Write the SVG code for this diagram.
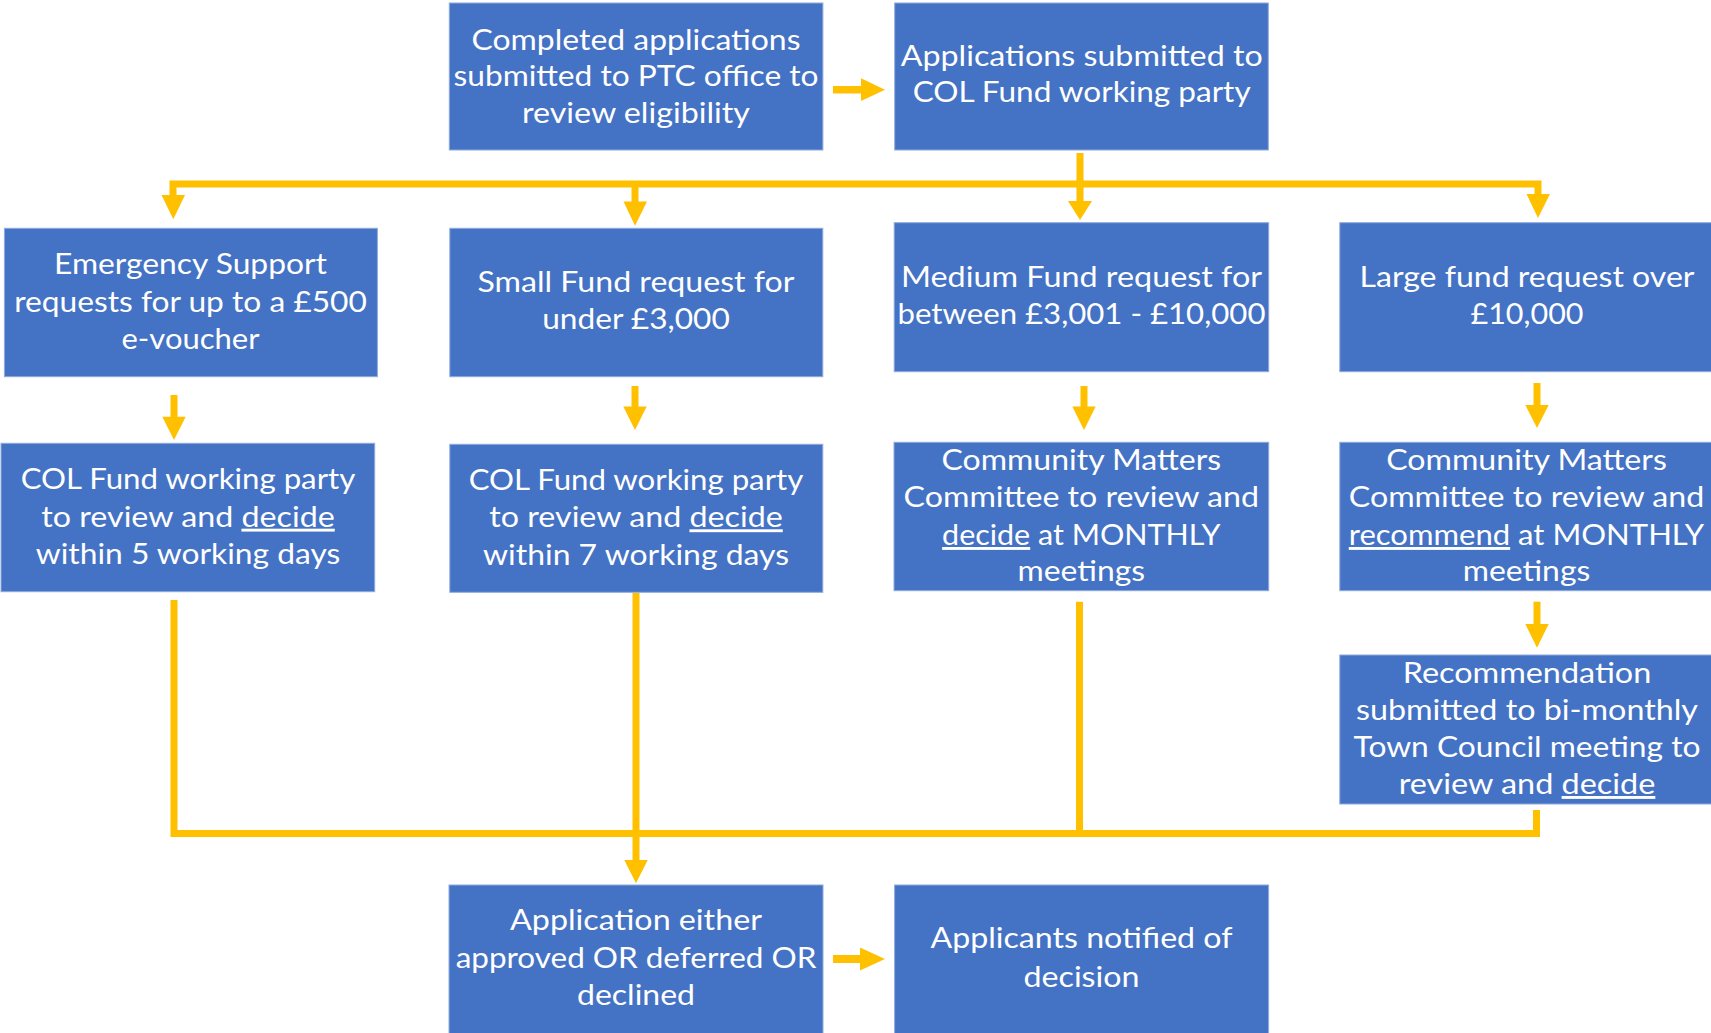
<svg xmlns="http://www.w3.org/2000/svg" width="1711" height="1033" viewBox="0 0 1711 1033">
<style>
.box{fill:#4472C4;stroke:#8FAADC;stroke-width:1}
.t{font-family:Lato,"Noto Sans","DejaVu Sans",sans-serif;font-size:29px;fill:#FFFFFF;text-anchor:middle}
.u{text-decoration:underline}
.ln{fill:none;stroke:#FFC000;stroke-width:7}
.hd{fill:#FFC000}
</style>
<rect width="1711" height="1033" fill="#FFFFFF"/>
<g id="connectors">
  <rect class="hd" x="833" y="86" width="28" height="7.5"/>
  <polygon class="hd" points="861,78.3 885,89.7 861,101"/>
  <rect class="hd" x="833" y="955" width="28" height="8"/>
  <polygon class="hd" points="860,947.5 885,959 860,970.5"/>
  <polyline class="ln" points="173,205 173,184 1538,184 1538,200"/>
  <line class="ln" x1="1080" y1="153" x2="1080" y2="204"/>
  <line class="ln" x1="635" y1="184" x2="635" y2="206"/>
  <polygon class="hd" points="161.5,195 185,195 173.3,219.3"/>
  <polygon class="hd" points="623.5,201.5 647,201.5 635,225.7"/>
  <polygon class="hd" points="1068,201 1092,201 1080,220"/>
  <polygon class="hd" points="1526.5,194 1550,194 1538,218"/>
  <line class="ln" x1="174" y1="395" x2="174" y2="420"/>
  <polygon class="hd" points="162.3,416.7 185.7,416.7 174,440"/>
  <line class="ln" x1="635" y1="386" x2="635" y2="410"/>
  <polygon class="hd" points="623.3,406.5 646.7,406.5 635,430"/>
  <line class="ln" x1="1084" y1="386" x2="1084" y2="410"/>
  <polygon class="hd" points="1072.3,406.5 1095.7,406.5 1084,430"/>
  <line class="ln" x1="1537" y1="383" x2="1537" y2="408"/>
  <polygon class="hd" points="1525.3,405 1548.7,405 1537,428"/>
  <line class="ln" x1="1537" y1="601.7" x2="1537" y2="627"/>
  <polygon class="hd" points="1525.3,624 1548.7,624 1537,647.7"/>
  <polyline class="ln" points="174,600 174,833.5 1536.5,833.5 1536.5,810"/>
  <line class="ln" x1="1079.5" y1="601.7" x2="1079.5" y2="833.5"/>
  <line class="ln" x1="636" y1="593" x2="636" y2="864"/>
  <polygon class="hd" points="624.3,860 647.7,860 636,883.3"/>
</g>
<g id="n1">
  <rect class="box" x="449.3" y="3" width="373.6" height="147"/>
  <text class="t" x="636" y="49.5" textLength="329" lengthAdjust="spacingAndGlyphs">Completed applications</text>
  <text class="t" x="636" y="86" textLength="365" lengthAdjust="spacingAndGlyphs">submitted to PTC office to</text>
  <text class="t" x="636" y="122.5" textLength="228" lengthAdjust="spacingAndGlyphs">review eligibility</text>
</g>
<g id="n2">
  <rect class="box" x="894.7" y="3" width="373.6" height="147"/>
  <text class="t" x="1081.7" y="66" textLength="362" lengthAdjust="spacingAndGlyphs">Applications submitted to</text>
  <text class="t" x="1081.7" y="102" textLength="338" lengthAdjust="spacingAndGlyphs">COL Fund working party</text>
</g>
<g id="n3">
  <rect class="box" x="4.4" y="228.3" width="373" height="148.4"/>
  <text class="t" x="190.5" y="274" textLength="273" lengthAdjust="spacingAndGlyphs">Emergency Support</text>
  <text class="t" x="190.5" y="311.5" textLength="352.7" lengthAdjust="spacingAndGlyphs">requests for up to a £500</text>
  <text class="t" x="190.5" y="349" textLength="138" lengthAdjust="spacingAndGlyphs">e-voucher</text>
</g>
<g id="n4">
  <rect class="box" x="449.8" y="228.3" width="373" height="148.4"/>
  <text class="t" x="636" y="291.7" textLength="317" lengthAdjust="spacingAndGlyphs">Small Fund request for</text>
  <text class="t" x="636" y="329" textLength="187.6" lengthAdjust="spacingAndGlyphs">under £3,000</text>
</g>
<g id="n5">
  <rect class="box" x="894.2" y="222.7" width="374.5" height="149"/>
  <text class="t" x="1081.5" y="287.3" textLength="361" lengthAdjust="spacingAndGlyphs">Medium Fund request for</text>
  <text class="t" x="1081.5" y="324" textLength="368" lengthAdjust="spacingAndGlyphs">between £3,001 - £10,000</text>
</g>
<g id="n6">
  <rect class="box" x="1339.8" y="222.7" width="374" height="149"/>
  <text class="t" x="1527" y="287.3" textLength="335" lengthAdjust="spacingAndGlyphs">Large fund request over</text>
  <text class="t" x="1527" y="324" textLength="113" lengthAdjust="spacingAndGlyphs">£10,000</text>
</g>
<g id="n7">
  <rect class="box" x="1" y="443.3" width="373.7" height="148.4"/>
  <text class="t" x="188" y="489.3" textLength="334.6" lengthAdjust="spacingAndGlyphs">COL Fund working party</text>
  <text class="t" x="188" y="526.7" textLength="293.5" lengthAdjust="spacingAndGlyphs">to review and <tspan class="u">decide</tspan></text>
  <text class="t" x="188" y="564" textLength="304.5" lengthAdjust="spacingAndGlyphs">within 5 working days</text>
</g>
<g id="n8">
  <rect class="box" x="449.8" y="444.3" width="373" height="148"/>
  <text class="t" x="636" y="490" textLength="334.6" lengthAdjust="spacingAndGlyphs">COL Fund working party</text>
  <text class="t" x="636" y="527.3" textLength="293.5" lengthAdjust="spacingAndGlyphs">to review and <tspan class="u">decide</tspan></text>
  <text class="t" x="636" y="564.7" textLength="306" lengthAdjust="spacingAndGlyphs">within 7 working days</text>
</g>
<g id="n9">
  <rect class="box" x="894" y="442.3" width="374.7" height="148.4"/>
  <text class="t" x="1081.3" y="470" textLength="279.5" lengthAdjust="spacingAndGlyphs">Community Matters</text>
  <text class="t" x="1081.3" y="507.3" textLength="355.5" lengthAdjust="spacingAndGlyphs">Committee to review and</text>
  <text class="t" x="1081.3" y="545" textLength="278.4" lengthAdjust="spacingAndGlyphs"><tspan class="u">decide</tspan> at MONTHLY</text>
  <text class="t" x="1081.3" y="580.7" textLength="127.5" lengthAdjust="spacingAndGlyphs">meetings</text>
</g>
<g id="n10">
  <rect class="box" x="1339.8" y="442.3" width="374" height="148.4"/>
  <text class="t" x="1526.5" y="470" textLength="280.6" lengthAdjust="spacingAndGlyphs">Community Matters</text>
  <text class="t" x="1526.5" y="507.3" textLength="355.5" lengthAdjust="spacingAndGlyphs">Committee to review and</text>
  <text class="t" x="1526.5" y="545" textLength="355.5" lengthAdjust="spacingAndGlyphs"><tspan class="u">recommend</tspan> at MONTHLY</text>
  <text class="t" x="1526.5" y="580.7" textLength="127.5" lengthAdjust="spacingAndGlyphs">meetings</text>
</g>
<g id="n11">
  <rect class="box" x="1339.8" y="655" width="374" height="149"/>
  <text class="t" x="1527" y="683.3" textLength="248.6" lengthAdjust="spacingAndGlyphs">Recommendation</text>
  <text class="t" x="1527" y="720" textLength="342" lengthAdjust="spacingAndGlyphs">submitted to bi-monthly</text>
  <text class="t" x="1527" y="757.3" textLength="347" lengthAdjust="spacingAndGlyphs">Town Council meeting to</text>
  <text class="t" x="1527" y="794" textLength="256.7" lengthAdjust="spacingAndGlyphs">review and <tspan class="u">decide</tspan></text>
</g>
<g id="n12">
  <rect class="box" x="449" y="885" width="374" height="150"/>
  <text class="t" x="636" y="930" textLength="251.8" lengthAdjust="spacingAndGlyphs">Application either</text>
  <text class="t" x="636" y="968.3" textLength="360.7" lengthAdjust="spacingAndGlyphs">approved OR deferred OR</text>
  <text class="t" x="636" y="1005" textLength="117.9" lengthAdjust="spacingAndGlyphs">declined</text>
</g>
<g id="n13">
  <rect class="box" x="894.6" y="885" width="374" height="150"/>
  <text class="t" x="1081.5" y="948.3" textLength="301.8" lengthAdjust="spacingAndGlyphs">Applicants notified of</text>
  <text class="t" x="1081.5" y="986.7" textLength="116" lengthAdjust="spacingAndGlyphs">decision</text>
</g>
</svg>
